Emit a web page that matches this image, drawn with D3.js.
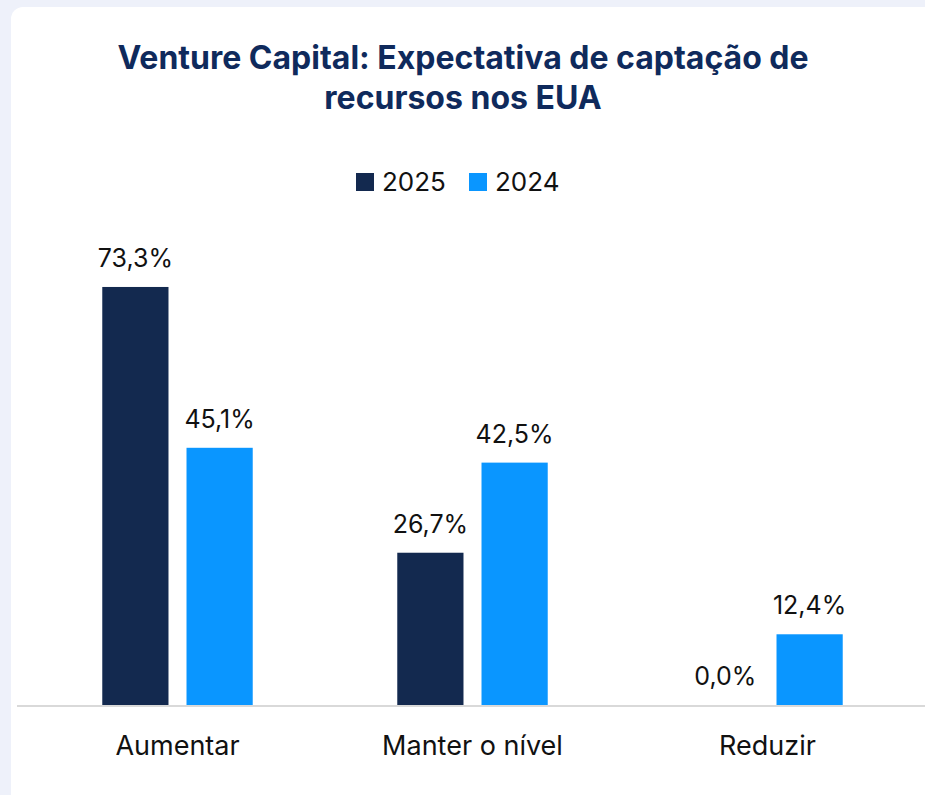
<!DOCTYPE html>
<html>
<head>
<meta charset="utf-8">
<script src="https://cdn.jsdelivr.net/npm/d3@7"></script>
<style>
  html, body { margin: 0; padding: 0; background: #eef1fa; }
  svg { display: block; }
</style>
</head>
<body>
<script>
// Dati del grafico
const categorie = ["Aumentar", "Manter o nível", "Reduzir"];
const serie = ["2025", "2024"];
const valori2025 = [73.3, 26.7, 0.0];
const valori2024 = [45.1, 42.5, 12.4];
const titolo = ["Venture Capital: Expectativa de captação de", "recursos nos EUA"];

const colori = { "2025": "#13294f", "2024": "#0a96ff" };

const width = 925;
const height = 795;
const baseline = 705;
const font = "Inter, 'Noto Sans', sans-serif";

const dati = categorie.map((c, i) => ({
  categoria: c,
  valori: [
    { serie: "2025", valore: valori2025[i] },
    { serie: "2024", valore: valori2024[i] }
  ]
}));

const svg = d3.create("svg")
  .attr("width", width)
  .attr("height", height);

// Card bianca
svg.append("rect")
  .attr("x", 11)
  .attr("y", 7)
  .attr("width", 940)
  .attr("height", 820)
  .attr("rx", 12)
  .attr("fill", "#ffffff");

// Scale
const x0 = d3.scaleBand()
  .domain(categorie)
  .range([30, 915])
  .paddingInner(0.49)
  .paddingOuter(0.245);

const x1 = d3.scaleBand()
  .domain(serie)
  .range([0, x0.bandwidth()])
  .paddingInner(0.214)
  .paddingOuter(0);

const y = d3.scaleLinear()
  .domain([0, 80])
  .range([baseline, baseline - 80 * 5.703]);

// Titolo
svg.append("text")
  .attr("x", 463)
  .attr("text-anchor", "middle")
  .attr("font-family", font)
  .attr("font-weight", 700)
  .attr("font-size", 32)
  .attr("fill", "#0f2a5c")
  .selectAll("tspan")
  .data(titolo)
  .join("tspan")
  .attr("x", 463)
  .attr("y", (d, i) => 69 + i * 40)
  .text(d => d);

// Legenda
const legenda = svg.append("g")
  .selectAll("g")
  .data(serie)
  .join("g")
  .attr("transform", (d, i) => `translate(${i === 0 ? 356 : 469}, 173)`);

legenda.append("rect")
  .attr("width", 18)
  .attr("height", 18)
  .attr("fill", d => colori[d]);

legenda.append("text")
  .attr("x", 26)
  .attr("y", 18)
  .attr("font-family", font)
  .attr("font-size", 26)
  .attr("fill", "#111")
  .text(d => d);

// Barre
const gruppi = svg.append("g")
  .selectAll("g")
  .data(dati)
  .join("g")
  .attr("transform", d => `translate(${x0(d.categoria)}, 0)`);

gruppi.selectAll("rect")
  .data(d => d.valori)
  .join("rect")
  .attr("x", d => x1(d.serie))
  .attr("y", d => y(d.valore))
  .attr("width", x1.bandwidth())
  .attr("height", d => baseline - y(d.valore))
  .attr("fill", d => colori[d.serie]);

gruppi.selectAll("text")
  .data(d => d.valori)
  .join("text")
  .attr("x", d => x1(d.serie) + x1.bandwidth() / 2)
  .attr("y", d => y(d.valore) - 20)
  .attr("text-anchor", "middle")
  .attr("font-family", font)
  .attr("font-size", 25)
  .attr("fill", "#111")
  .text(d => d3.format(".1f")(d.valore).replace(".", ",") + "%");

// Asse x
svg.append("g")
  .attr("transform", `translate(0, ${baseline})`)
  .call(d3.axisBottom(x0).tickSize(0).tickPadding(31))
  .call(g => g.select(".domain").remove())
  .call(g => g.selectAll("text")
    .attr("font-family", font)
    .attr("font-size", 27)
    .attr("fill", "#111"));

svg.append("line")
  .attr("x1", 17)
  .attr("x2", width)
  .attr("y1", baseline + 1)
  .attr("y2", baseline + 1)
  .attr("stroke", "#d9d9d9")
  .attr("stroke-width", 2);

document.body.appendChild(svg.node());
</script>
</body>
</html>
